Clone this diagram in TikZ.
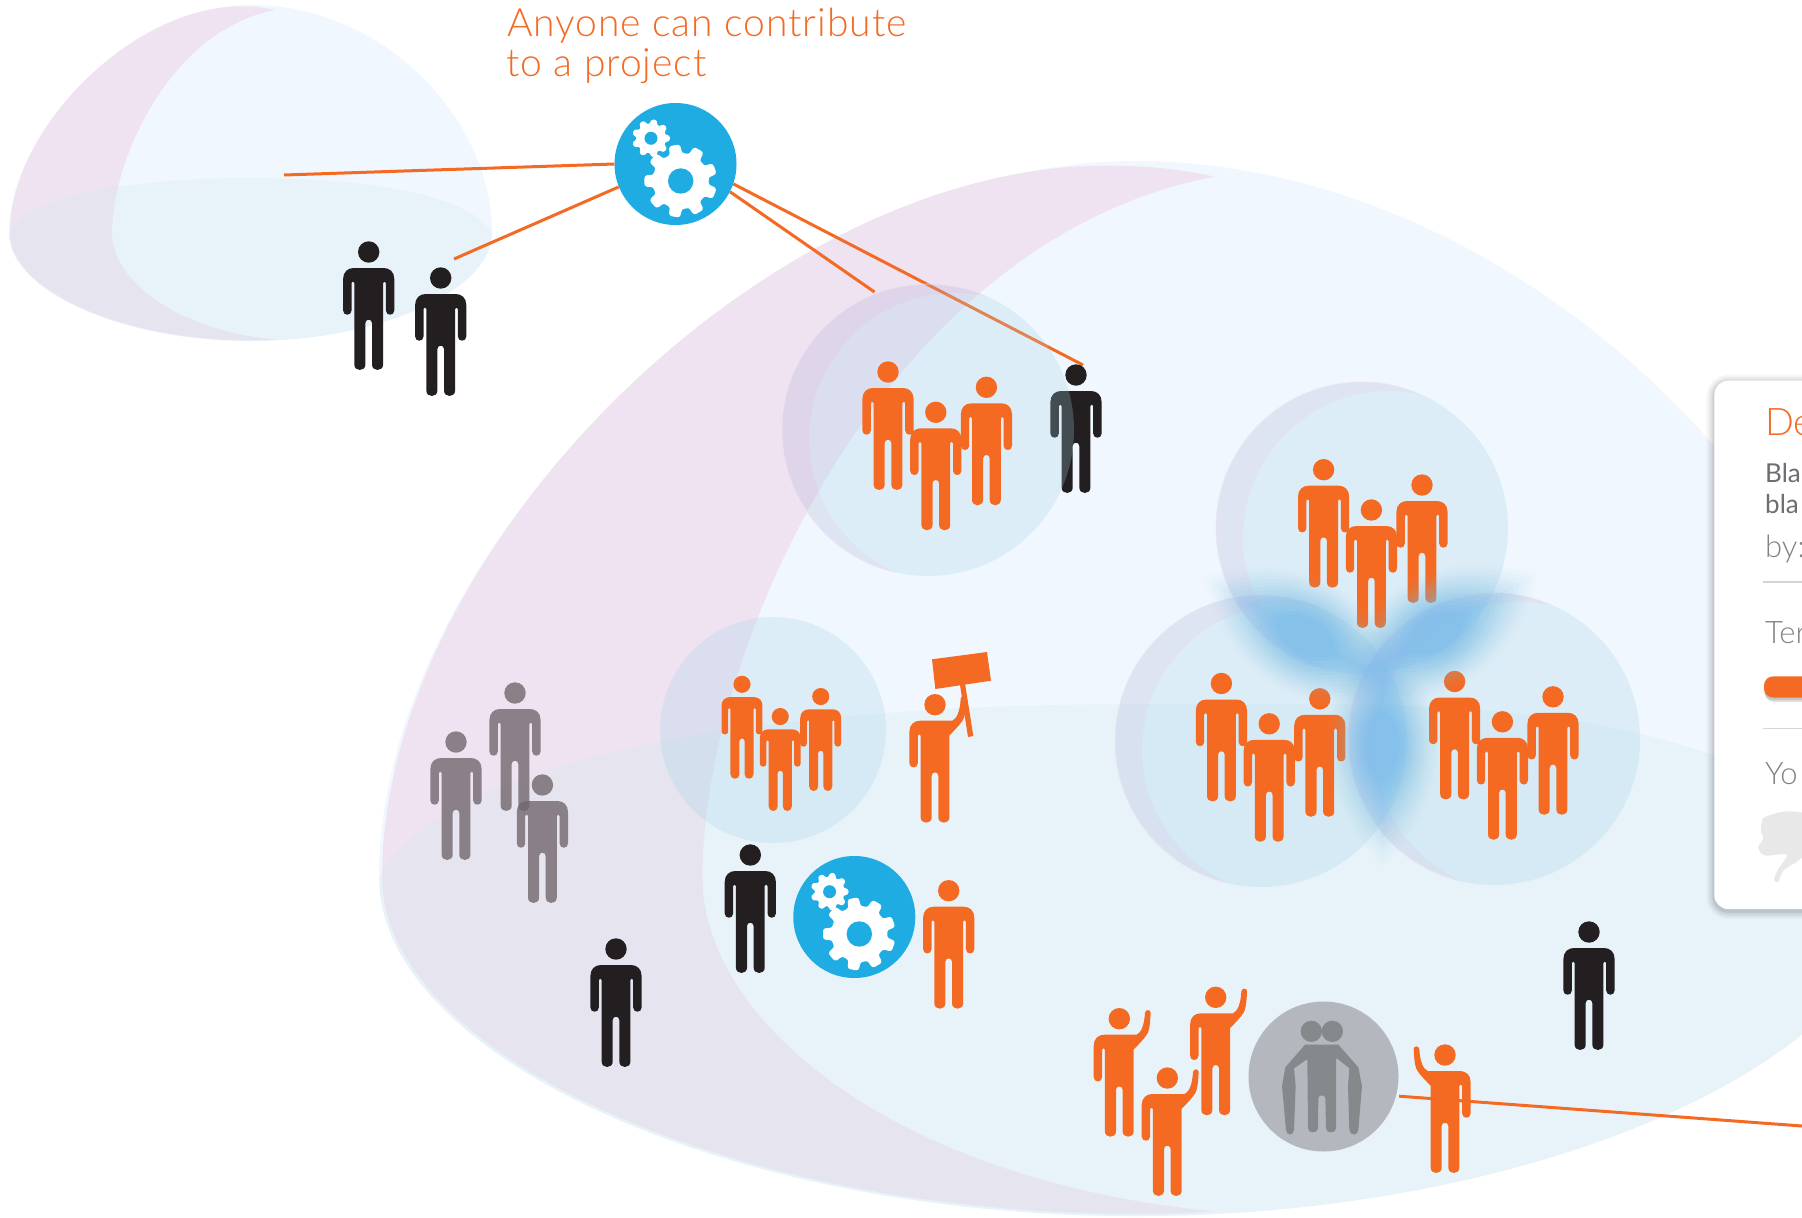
\documentclass[tikz,border=0pt]{standalone}
\usepackage{fontspec}
\setmainfont{Lato}
\newfontfamily\lightf{Lato Light}
\newfontfamily\titlef[LetterSpace=2.4]{Lato Light}
\definecolor{ink}{HTML}{231F20}
\definecolor{orng}{HTML}{F56A23}
\definecolor{gearblue}{HTML}{1FACE3}
\definecolor{eggpale}{HTML}{F1F7FE}
\definecolor{eggpink}{HTML}{EFE3F1}
\definecolor{bandtint}{HTML}{C4E8EA}
\definecolor{bubinner}{HTML}{A1D3E6}
\definecolor{bubcres}{HTML}{ADAFD6}
\definecolor{greydisc}{HTML}{B4B8BE}
\definecolor{greyfig}{HTML}{85898C}
\definecolor{crowd}{HTML}{72666E}
\definecolor{glow}{HTML}{78BFEA}
\definecolor{txtgrey}{HTML}{808285}
\definecolor{txtdark}{HTML}{6D6E71}
\definecolor{rulegrey}{HTML}{D4D5D6}
\definecolor{thumbgrey}{HTML}{E8E8E8}
\tikzset{
  person/.pic={\path[pic actions] (0,0) circle[radius=10.7]
    (-25.6,27) .. controls (-25.6,20) and (-21,16) .. (-15,16) -- (15,16)
    .. controls (21,16) and (25.6,20) .. (25.6,27) -- (25.6,58.5)
    .. controls (25.6,64.1) and (17.2,64.1) .. (17.2,58.5) -- (17.2,31)
    .. controls (17.2,29) and (14.4,29) .. (14.4,31) -- (14.4,112.5)
    .. controls (14.4,119.8) and (3.3,119.8) .. (3.3,112.5) -- (3.3,71)
    .. controls (3.3,66.6) and (-3.3,66.6) .. (-3.3,71) -- (-3.3,112.5)
    .. controls (-3.3,119.8) and (-14.4,119.8) .. (-14.4,112.5) -- (-14.4,31)
    .. controls (-14.4,29) and (-17.2,29) .. (-17.2,31) -- (-17.2,58.5)
    .. controls (-17.2,64.1) and (-25.6,64.1) .. (-25.6,58.5) -- cycle;},
  waver/.pic={\path[pic actions] (0,0) circle[radius=10.7]
    (-25.6,27) .. controls (-25.6,20) and (-21,16) .. (-15,16) -- (17.3,16)
    .. controls (22,14) and (25,6) .. (25.7,-6)
    .. controls (26,-9.5) and (31.5,-9.5) .. (31.3,-6)
    .. controls (31,2) and (30.5,8) .. (29,13)
    .. controls (27,18) and (20,25) .. (14.4,30.7) -- (14.4,112.5)
    .. controls (14.4,119.8) and (3.3,119.8) .. (3.3,112.5) -- (3.3,71)
    .. controls (3.3,66.6) and (-3.3,66.6) .. (-3.3,71) -- (-3.3,112.5)
    .. controls (-3.3,119.8) and (-14.4,119.8) .. (-14.4,112.5) -- (-14.4,31)
    .. controls (-14.4,29) and (-17.2,29) .. (-17.2,31) -- (-17.2,58.5)
    .. controls (-17.2,64.1) and (-25.6,64.1) .. (-25.6,58.5) -- cycle;},
  gearnode/.style={circle,fill=gearblue,minimum size=122pt,inner sep=0pt},
  link/.style={draw=orng,line width=3pt},
  paneltext/.style={anchor=base west,inner sep=0pt},
}
\newcommand{\trioat}[3]{%
  \begin{scope}[shift={(#1,#2)},scale=#3]
    \pic[fill=orng,transform shape] at (98.4,15.3) {person};
    \pic[fill=orng,transform shape] at (0,0) {person};
    \pic[fill=orng,transform shape] at (47.8,40.3) {person};
  \end{scope}}
% egg: #1 transform, #2 upper right controls, #3 band right curve
\newcommand{\eggshape}[3]{%
  \begin{scope}[#1]
    \fill[eggpale] (9,233) .. controls (9,128) and (135,5) .. (250,5)
      .. controls #2 .. (492,233)
      .. controls (492,290) and (380,341) .. (250,341)
      .. controls (120,341) and (9,290) .. (9,233) -- cycle;
    \fill[eggpink] (275,10) .. controls (262,7) and (250,6.5) .. (240,6.5)
      .. controls (133,6.5) and (10,128) .. (10,233)
      .. controls (10,289) and (120,340.3) .. (250,340.3)
      .. controls (258,340.3) and (268,340) .. (275,339.5)
      .. controls (175,330) and (112,280) .. (112,233)
      .. controls (112,160) and (170,30) .. (275,10) -- cycle;
    \fill[bandtint,opacity=.22] (9,233) .. controls (30,195) and (130,178) .. (250,178)
      .. controls #3 .. (492,233)
      .. controls (492,290) and (380,341) .. (250,341)
      .. controls (120,341) and (9,290) .. (9,233) -- cycle;
  \end{scope}}
% bubble with crescent: centre x, y
\newcommand{\bubble}[2]{%
  \begin{scope}
    \clip (#1,#2) circle[radius=146];
    \fill[bubcres,opacity=.25,even odd rule] (#1,#2) circle[radius=147] (#1+27,#2+9) circle[radius=146];
    \fill[bubinner,opacity=.25] (#1+27,#2+9) circle[radius=146];
  \end{scope}
  \begin{scope}
    \clip (#1+45,#2-170) -- (#1-45,#2+170) -- (#1-170,#2+170) -- (#1-170,#2-170) -- cycle;
    \draw[eggpink,opacity=.6,line width=1pt] (#1,#2) circle[radius=146];
  \end{scope}}
% cog: centre, outer radius, root radius, hole radius, first tooth angle
\newcommand{\cog}[6]{%
  \begin{scope}[shift={(#1,#2)}]
    \fill[white,draw=white,line width=1.2pt,line join=round,rounded corners=2.2pt] (#6-20:#4)
      \foreach \k in {0,...,8}{
        -- ({#6+40*\k-12}:#4) -- ({#6+40*\k-8}:#3) -- ({#6+40*\k+8}:#3) -- ({#6+40*\k+12}:#4) -- ({#6+40*\k+20}:#4)
      } -- cycle;
    \fill[gearblue] (0,0) circle[radius=#5];
  \end{scope}}
% soft glow lens: centre, canvas angle, half length, half width
\newcommand{\softglow}[5]{%
  \foreach \s [evaluate=\s as \op using {.17-.155*(\s-6)/14}] in {6,...,20}{
    \fill[glow,opacity=\op,shift={(#1,#2)},rotate=#3,scale={\s/20}]
      (-#4,0) .. controls (-#4*.4,-#5*1.33) and (#4*.4,-#5*1.33) .. (#4,0)
      .. controls (#4*.4,#5*1.33) and (-#4*.4,#5*1.33) .. (-#4,0) -- cycle;
  }}
\begin{document}
\begin{tikzpicture}[x=1pt,y=-1pt]
\fill[white] (0,0) rectangle (1802,1218);
\path[use as bounding box,clip] (0,0) rectangle (1802,1218);

% soft background shapes
\eggshape{}{(385,5) and (492,120)}{(370,178) and (470,195)}
\eggshape{shift={(350.74,145.3)},scale=3.14}{(375,5) and (492,125)}{(340,178) and (440,172)}

% coordinates for free ends
\coordinate (endA) at (284,175);
\coordinate (endB) at (454,259);
\coordinate (endC) at (1083,365);
\coordinate (endD) at (874.5,292);
\coordinate (endE) at (1802,1126);

\node[gearnode] (gearTop) at (675.5,164) {};
\draw[link] (gearTop.180) -- (endA);
\draw[link] (gearTop.202) -- (endB);
\draw[link] (gearTop.-19) -- (endC);
\draw[link] (gearTop.-27) -- (endD);

% people under the first bubble
\pic[fill=ink] (blackBubble) at (1076,375) {person};

% bubbles
\bubble{928}{430}
\fill[bubinner,opacity=.25] (773,730) circle[radius=113];
\bubble{1362}{528}
\bubble{1261}{741}
\bubble{1494}{739}

% cogs of top gear
\cog{651}{138.3}{18.5}{14}{6.5}{0}
\cog{680.7}{181}{36}{27.5}{12.7}{20}

% second gear
\node[gearnode] (gearLow) at (854.3,917) {};
\cog{829.6}{891.7}{18.5}{14}{6.5}{0}
\cog{859.3}{934}{36}{27.5}{12.7}{20}

% black people
\pic[fill=ink] (blackA) at (368.7,252) {person};
\pic[fill=ink] (blackB) at (440.7,278) {person};
\pic[fill=ink] (blackC) at (750.3,855) {person};
\pic[fill=ink] (blackD) at (616,949) {person};
\pic[fill=ink] (blackE) at (1589,932) {person};

% grey crowd
\pic[fill=crowd,opacity=.8] (greyA) at (515,693) {person};
\pic[fill=crowd,opacity=.8] (greyB) at (456,742) {person};
\pic[fill=crowd,opacity=.8] (greyC) at (542.4,785) {person};

% orange groups
\trioat{888}{372}{1}
\trioat{1323.6}{469.7}{1}
\trioat{1221.4}{683.5}{1}
\trioat{1454.6}{681.5}{1}
\trioat{742}{684.3}{.8}
\pic[fill=orng] (loneA) at (948.7,890.7) {person};

% glow where the bubbles meet
\softglow{1306}{636}{-30}{122}{60}
\softglow{1435}{633}{30}{122}{60}
\softglow{1383}{745}{90}{125}{56}

% protester
\pic[fill=orng] (protester) at (935,704.7) {waver};
\fill[orng] (932,659.3) -- (987,652) -- (991,680.7) -- (935.3,689) -- cycle;
\fill[orng] (960,685) -- (965,683.3) -- (973.3,736) -- (968,737) -- cycle;

% grey disc with pair
\node[circle,fill=greydisc,minimum size=150pt,inner sep=0pt] (disc) at (1323.5,1076.5) {};
\begin{scope}[shift={(1060,960)},scale=1/3]
  \fill[greyfig] (754,214) circle[radius=32] (817,214) circle[radius=32];
  \fill[greyfig] (735,254) -- (835,254) -- (895,322) -- (906,378) -- (895,510)
    .. controls (893,528) and (870,528) .. (868,510) -- (864,378) -- (868,325) -- (831,295) -- (828,298) -- (828,505)
    .. controls (828,521) and (798,521) .. (798,505) -- (796,415)
    .. controls (796,403) and (775,403) .. (775,415) -- (774,505)
    .. controls (774,521) and (744,521) .. (744,505) -- (742,298) -- (738,300) -- (702,325) -- (707,378) -- (702,510)
    .. controls (700,528) and (680,528) .. (678,510) -- (666,378) -- (676,322) -- cycle;
\end{scope}

% connector through the last waver
\draw[link,shorten <=3pt] (disc.-15) -- (endE);

% wavers
\pic[fill=orng] (waveC) at (1215.7,997.3) {waver};
\pic[fill=orng] (waveA) at (1119.3,1018.7) {waver};
\pic[fill=orng] (waveB) at (1167.3,1078) {waver};
\pic[fill=orng,xscale=-1] (waveD) at (1445,1055) {waver};

% title
\node[anchor=base west,inner sep=0pt,text=orng,font=\titlef\fontsize{39}{42}\selectfont] (titleA) at (507,36) {Anyone can contribute};
\node[anchor=base west,inner sep=0pt,text=orng,font=\titlef\fontsize{39}{42}\selectfont] (titleB) at (506,76) {to a project};

% panel
\foreach \w/\o in {16/.03,12/.04,8/.05,4/.07}{
  \draw[black,opacity=\o,line width=\w pt,rounded corners=14pt] (1714.3,382.7) rectangle (1840,911);
}
\fill[white,rounded corners=14pt] (1714.3,380.7) rectangle (1840,909);
\node[paneltext,text=orng,font=\lightf\fontsize{38}{38}\selectfont] (panelHead) at (1765,435.7) {De};
\node[paneltext,text=txtdark,font=\fontsize{26}{26}\selectfont] (panelBlaA) at (1765,482.5) {Bla};
\node[paneltext,text=txtdark,font=\fontsize{26}{26}\selectfont] (panelBlaB) at (1765,513.6) {bla};
\node[paneltext,text=txtgrey,font=\lightf\fontsize{31}{31}\selectfont] (panelBy) at (1765,557.5) {by:};
\draw[rulegrey,line width=1.5pt] (1762.7,582) -- (1802,582);
\node[paneltext,text=txtgrey,font=\lightf\fontsize{31}{31}\selectfont] (panelTer) at (1765,643) {Ter};
\fill[black,opacity=.12,rounded corners=9pt] (1765,681) rectangle (1830,702);
\fill[black,opacity=.12,rounded corners=9pt] (1764,679) rectangle (1830,700);
\fill[orng,rounded corners=9pt] (1764,676.4) rectangle (1830,697.5);
\draw[rulegrey,line width=1.5pt] (1762.7,728.6) -- (1802,728.6);
\node[paneltext,text=txtgrey,font=\lightf\fontsize{31}{31}\selectfont] (panelYo) at (1765,784) {Yo};
\fill[thumbgrey] plot[smooth cycle,tension=.55] coordinates {
  (1765,817) (1783.3,811.8) (1802,812.5) (1815,820) (1815,852) (1802,858) (1796.7,861.8) (1783.3,870.7) (1778.3,882) (1774,879.6) (1778.3,869) (1786.7,854.6) (1765,855.4) (1758.3,847.5) (1763.3,838.6) (1761,831.4) (1761.7,822.5)};
\end{tikzpicture}
\end{document}
